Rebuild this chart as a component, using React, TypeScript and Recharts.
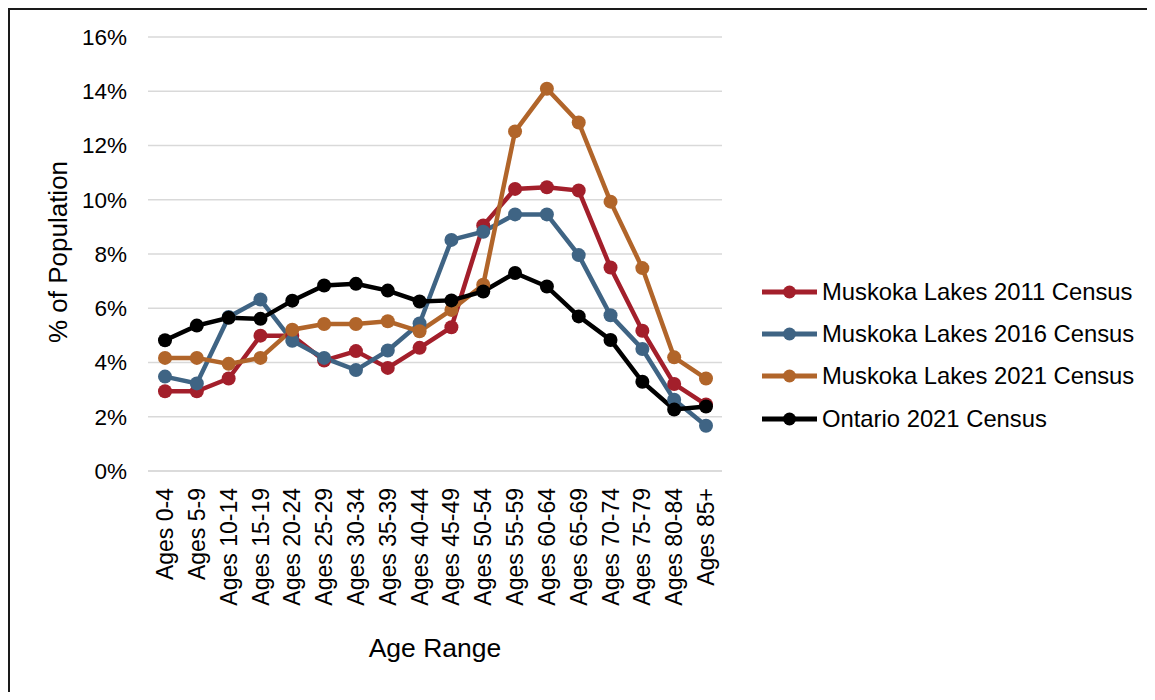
import { CartesianGrid, Legend, Line, LineChart, XAxis, YAxis } from "recharts"

// age groups on the x axis
const ageGroups = [
  "Ages 0-4", "Ages 5-9", "Ages 10-14", "Ages 15-19", "Ages 20-24", "Ages 25-29",
  "Ages 30-34", "Ages 35-39", "Ages 40-44", "Ages 45-49", "Ages 50-54", "Ages 55-59",
  "Ages 60-64", "Ages 65-69", "Ages 70-74", "Ages 75-79", "Ages 80-84", "Ages 85+",
]

// % of population
const muskoka2011 = [2.94, 2.94, 3.41, 4.99, 4.99, 4.07, 4.42, 3.8, 4.54, 5.3, 9.05, 10.4, 10.46, 10.34, 7.5, 5.17, 3.21, 2.45]
const muskoka2016 = [3.48, 3.23, 5.68, 6.32, 4.8, 4.17, 3.72, 4.44, 5.44, 8.52, 8.82, 9.46, 9.46, 7.96, 5.74, 4.5, 2.63, 1.67]
const muskoka2021 = [4.17, 4.17, 3.95, 4.17, 5.21, 5.42, 5.42, 5.52, 5.15, 5.94, 6.87, 12.52, 14.09, 12.85, 9.93, 7.48, 4.19, 3.41]
const ontario2021 = [4.82, 5.36, 5.65, 5.61, 6.28, 6.84, 6.9, 6.65, 6.25, 6.29, 6.62, 7.3, 6.8, 5.7, 4.83, 3.29, 2.27, 2.38]

const yTicks = [0, 2, 4, 6, 8, 10, 12, 14, 16]

const series = [
  { key: "m2011", name: "Muskoka Lakes 2011 Census", color: "#A31F2B", values: muskoka2011 },
  { key: "m2016", name: "Muskoka Lakes 2016 Census", color: "#3F6484", values: muskoka2016 },
  { key: "m2021", name: "Muskoka Lakes 2021 Census", color: "#B1652A", values: muskoka2021 },
  { key: "on2021", name: "Ontario 2021 Census", color: "#000000", values: ontario2021 },
]

const data = ageGroups.map((age, i) => {
  const row: Record<string, string | number> = { age }
  series.forEach((s) => {
    row[s.key] = s.values[i]
  })
  return row
})

const FONT = "'Liberation Sans', Arial, sans-serif"

function AgeTick({ x, y, payload }: any) {
  return (
    <g transform={`translate(${x},${y})`}>
      <text transform="rotate(-90)" textAnchor="end" dy="0.35em" fontSize={23} fill="#000" fontFamily={FONT}>
        {payload.value}
      </text>
    </g>
  )
}

function LegendList() {
  return (
    <div style={{ fontFamily: FONT, fontSize: 23.8, color: "#000" }}>
      {series.map((s) => (
        <div key={s.key} style={{ display: "flex", alignItems: "center", height: 42.2, whiteSpace: "nowrap" }}>
          <svg width={55} height={20} style={{ marginRight: 5 }}>
            <line x1={0} y1={10} x2={55} y2={10} stroke={s.color} strokeWidth={5} />
            <circle cx={27.5} cy={10} r={6.5} fill={s.color} />
          </svg>
          <span>{s.name}</span>
        </div>
      ))}
    </div>
  )
}

export default function App() {
  return (
    <div
      style={{
        width: 1139,
        height: 684,
        boxSizing: "border-box",
        borderLeft: "2px solid #1a1a1a",
        borderTop: "2px solid #1a1a1a",
        background: "#fff",
      }}
    >
      <LineChart
        width={1137}
        height={682}
        data={data}
        margin={{ top: 27, right: 425, bottom: 31, left: 20 }}
        style={{ fontFamily: FONT }}
      >
        <CartesianGrid vertical={false} stroke="#d9d9d9" strokeWidth={1.5} />
        <XAxis
          dataKey="age"
          scale="point"
          padding={{ left: 17, right: 16 }}
          interval={0}
          height={190}
          tickSize={0}
          tickMargin={17}
          tickLine={false}
          axisLine={{ stroke: "#d9d9d9", strokeWidth: 1.5 }}
          tick={<AgeTick />}
          label={{
            content: ({ viewBox }: any) => (
              <text
                x={viewBox.x + viewBox.width / 2}
                y={viewBox.y + 186}
                textAnchor="middle"
                fontSize={26.5}
                fill="#000"
                fontFamily={FONT}
              >
                Age Range
              </text>
            ),
          }}
        />
        <YAxis
          domain={[0, 16]}
          ticks={yTicks}
          width={118}
          tickSize={0}
          tickMargin={21}
          axisLine={false}
          tickLine={false}
          tickFormatter={(v) => `${v}%`}
          tick={{ fontSize: 22.5, fill: "#000", fontFamily: FONT }}
          label={{
            content: ({ viewBox }: any) => {
              const cx = viewBox.x + 28
              const cy = viewBox.y + viewBox.height / 2 - 2
              return (
                <text
                  x={cx}
                  y={cy}
                  transform={`rotate(-90, ${cx}, ${cy})`}
                  textAnchor="middle"
                  dominantBaseline="central"
                  fontSize={26}
                  fill="#000"
                  fontFamily={FONT}
                >
                  % of Population
                </text>
              )
            },
          }}
        />
        <Legend
          layout="vertical"
          align="center"
          verticalAlign="middle"
          content={<LegendList />}
          wrapperStyle={{ position: "absolute", left: 752, top: 261, width: 400 }}
        />
        {series.map((s) => (
          <Line
            key={s.key}
            type="linear"
            dataKey={s.key}
            name={s.name}
            stroke={s.color}
            strokeWidth={4.5}
            dot={{ r: 7, fill: s.color, stroke: s.color, strokeWidth: 0 }}
            activeDot={false}
            isAnimationActive={false}
          />
        ))}
      </LineChart>
    </div>
  )
}
